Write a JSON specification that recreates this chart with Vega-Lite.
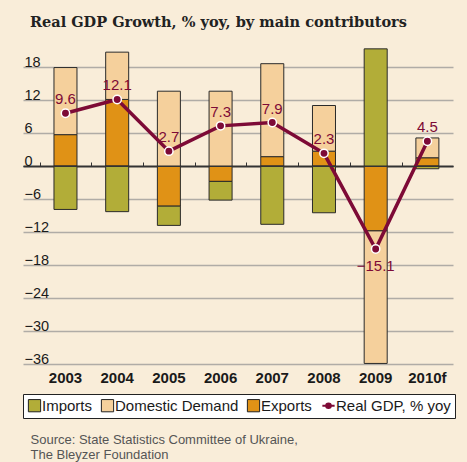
{
  "$schema": "https://vega.github.io/schema/vega-lite/v6.json",
  "width": 430,
  "height": 319,
  "autosize": {"type": "none"},
  "padding": {"left": 23, "top": 45, "right": 14, "bottom": 98},
  "background": "#F9EDD9",
  "config": {"view": {"stroke": null}, "font": "Liberation Sans"},
  "title": {
    "text": "Real GDP Growth, % yoy, by main contributors",
    "anchor": "start",
    "frame": "group",
    "font": "DejaVu Serif",
    "fontSize": 14.5,
    "fontWeight": "bold",
    "color": "#222222",
    "offset": 4,
    "dx": 7,
    "baseline": "alphabetic"
  },
  "datasets": {
    "bars": [
      {"year": "2003", "component": "Exports", "value": 5.7},
      {"year": "2003", "component": "Domestic Demand", "value": 12.2},
      {"year": "2003", "component": "Imports", "value": -7.9},
      {"year": "2004", "component": "Exports", "value": 12.1},
      {"year": "2004", "component": "Domestic Demand", "value": 8.6},
      {"year": "2004", "component": "Imports", "value": -8.3},
      {"year": "2005", "component": "Exports", "value": -7.3},
      {"year": "2005", "component": "Domestic Demand", "value": 13.6},
      {"year": "2005", "component": "Imports", "value": -3.5},
      {"year": "2006", "component": "Exports", "value": -2.8},
      {"year": "2006", "component": "Domestic Demand", "value": 13.6},
      {"year": "2006", "component": "Imports", "value": -3.4},
      {"year": "2007", "component": "Exports", "value": 1.7},
      {"year": "2007", "component": "Domestic Demand", "value": 16.9},
      {"year": "2007", "component": "Imports", "value": -10.6},
      {"year": "2008", "component": "Exports", "value": 2.7},
      {"year": "2008", "component": "Domestic Demand", "value": 8.3},
      {"year": "2008", "component": "Imports", "value": -8.5},
      {"year": "2009", "component": "Exports", "value": -11.8},
      {"year": "2009", "component": "Domestic Demand", "value": -24.1},
      {"year": "2009", "component": "Imports", "value": 21.3},
      {"year": "2010f", "component": "Exports", "value": 1.5},
      {"year": "2010f", "component": "Domestic Demand", "value": 3.6},
      {"year": "2010f", "component": "Imports", "value": -0.5}
    ],
    "gdp": [
      {"year": "2003", "value": 9.6},
      {"year": "2004", "value": 12.1},
      {"year": "2005", "value": 2.7},
      {"year": "2006", "value": 7.3},
      {"year": "2007", "value": 7.9},
      {"year": "2008", "value": 2.3},
      {"year": "2009", "value": -15.1},
      {"year": "2010f", "value": 4.5}
    ]
  },
  "encoding": {
    "y": {
      "field": "value", "type": "quantitative",
      "scale": {"domain": [-36, 22], "nice": false, "zero": false},
      "axis": {
        "values": [-36, -30, -24, -18, -12, -6, 0, 6, 12, 18],
        "tickCount": 10,
        "title": null, "domain": false, "ticks": false, "tickSize": 0,
        "labelAlign": "left", "labelPadding": -1, "labelBaseline": "alphabetic", "labelOffset": -1,
        "labelFont": "Liberation Sans", "labelFontSize": 14.5, "labelColor": "#1a1a1a",
        "labelFlush": false, "labelOverlap": false, "format": "d",
        "grid": true,
        "gridColor": {"condition": {"test": "datum.value === 0", "value": "#333333"}, "value": "#B0ACA6"},
        "gridWidth": {"condition": {"test": "datum.value === 0", "value": 2}, "value": 1.5}
      }
    }
  },
  "layer": [
    {
      "data": {"name": "bars"},
      "transform": [{"window": [{"op": "row_number", "as": "stackRank"}], "groupby": ["year"]}],
      "mark": {"type": "bar", "stroke": "#2a2a2a", "strokeWidth": 1},
      "encoding": {
        "x": {
          "field": "year", "type": "nominal", "sort": null,
          "scale": {"paddingInner": 0.555, "paddingOuter": 0.436, "align": 0.687, "round": false},
          "axis": {
            "orient": "bottom", "domain": false, "ticks": false, "grid": false,
            "labelPadding": 6, "labelAngle": 0,
            "labelFont": "Liberation Sans", "labelFontSize": 15, "labelFontWeight": "bold", "labelColor": "#1a1a1a",
            "title": ["Source: State Statistics Committee of Ukraine,", "The Bleyzer Foundation"],
            "titleFont": "Liberation Sans", "titleFontSize": 13, "titleFontWeight": "normal", "titleColor": "#555555",
            "titleAnchor": "start", "titleAlign": "left", "titleX": 7, "titleY": 79,
            "titleBaseline": "alphabetic", "titleLineHeight": 15
          }
        },
        "color": {
          "field": "component", "type": "nominal",
          "scale": {
            "domain": ["Imports", "Domestic Demand", "Exports", "Real GDP, % yoy"],
            "range": ["#B2AD38", "#F5D09C", "#E09216", "#7D0A36"]
          },
          "legend": {
            "orient": "none", "legendX": 0, "legendY": 349, "direction": "horizontal",
            "title": null, "fillColor": "#ffffff", "strokeColor": "#222222", "padding": 4,
            "labelFont": "Liberation Sans", "labelFontSize": 15, "labelColor": "#1a1a1a", "labelLimit": 300,
            "symbolSize": 150, "symbolStrokeWidth": 1, "symbolStrokeColor": "#222222", "symbolType": "square",
            "labelOffset": 0, "columnPadding": 6,
            "encode": {
              "symbols": {
                "update": {
                  "shape": {"signal": "datum.value === 'Real GDP, % yoy' ? 'M-1,0H-0.45M0.45,0H1M-0.38,0A0.38,0.38 0 1 0 0.38,0A0.38,0.38 0 1 0 -0.38,0' : 'square'"},
                  "stroke": {"signal": "datum.value === 'Real GDP, % yoy' ? '#7D0A36' : '#222222'"},
                  "strokeWidth": {"signal": "datum.value === 'Real GDP, % yoy' ? 2 : 1"}
                }
              }
            }
          }
        },
        "order": {"field": "stackRank", "type": "quantitative"}
      }
    },
    {
      "data": {"name": "gdp"},
      "mark": {"type": "line", "color": "#7D0A36", "strokeWidth": 3.5},
      "encoding": {
        "x": {
          "field": "year", "type": "nominal", "sort": null,
          "axis": {
            "orient": "top", "offset": -121, "zindex": 1, "labels": false, "title": null, "grid": false,
            "domain": true, "domainColor": "#333333", "domainWidth": 1,
            "ticks": true, "tickSize": 4, "tickColor": "#333333", "tickWidth": 1,
            "bandPosition": 0, "tickOffset": -14.35
          }
        }
      }
    },
    {
      "data": {"name": "gdp"},
      "mark": {"type": "circle", "size": 70, "fill": "#7D0A36", "stroke": "#ffffff", "strokeWidth": 1.5, "opacity": 1},
      "encoding": {
        "x": {"field": "year", "type": "nominal", "sort": null, "axis": null}
      }
    },
    {
      "data": {"name": "gdp"},
      "transform": [{"filter": "datum.value > 0"}],
      "mark": {"type": "text", "font": "Liberation Sans", "fontSize": 15, "color": "#7D0A36", "dy": -9, "baseline": "alphabetic"},
      "encoding": {
        "x": {"field": "year", "type": "nominal", "sort": null, "axis": null},
        "text": {"field": "value", "type": "quantitative", "format": ".1f"}
      }
    },
    {
      "data": {"name": "gdp"},
      "transform": [{"filter": "datum.value < 0"}],
      "mark": {"type": "text", "font": "Liberation Sans", "fontSize": 15, "color": "#7D0A36", "dy": 21.5, "baseline": "alphabetic"},
      "encoding": {
        "x": {"field": "year", "type": "nominal", "sort": null, "axis": null},
        "text": {"field": "value", "type": "quantitative", "format": ".1f"}
      }
    }
  ],
  "resolve": {"axis": {"x": "independent"}}
}
